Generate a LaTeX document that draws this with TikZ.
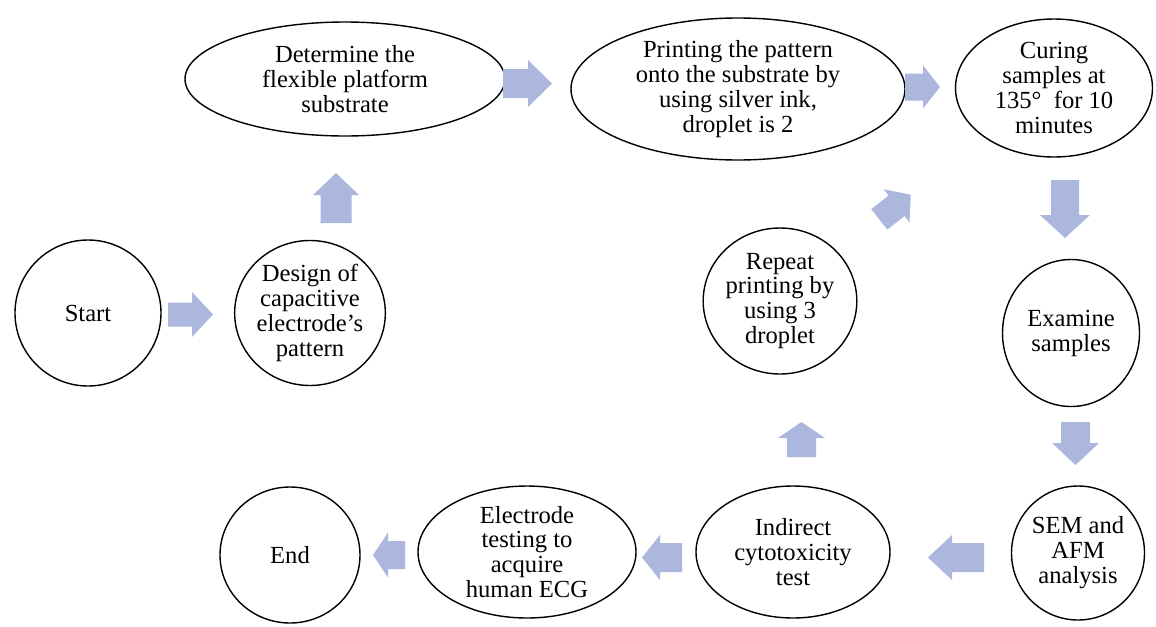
\documentclass[tikz,border=0pt]{standalone}
\usepackage{fontspec}
\setmainfont{Liberation Serif}
\usetikzlibrary{shapes.geometric}
\definecolor{arrowfill}{RGB}{171,183,221}
\newcommand\barrow[7]{\fill[arrowfill,shift={(#1,#2)},rotate=#3] (-#4/2,-#5/2) -- (#4/2-#7,-#5/2) -- (#4/2-#7,-#6/2) -- (#4/2,0) -- (#4/2-#7,#6/2) -- (#4/2-#7,#5/2) -- (-#4/2,#5/2) -- cycle;}
\begin{document}
\begin{tikzpicture}[x=0.02cm,y=-0.02cm,
  stage/.style={ellipse,draw=black,line width=0.8pt,inner sep=0pt,align=center,
    font=\fontsize{14}{14.2}\selectfont},
  ]
\useasboundingbox (0,0) rectangle (1156,626);
\node[stage,minimum width=146*0.02cm,minimum height=146*0.02cm] (start) at (88,313) {Start};
\node[stage,minimum width=150*0.02cm,minimum height=145*0.02cm] (design) at (310,313) {Design of\\capacitive\\electrode's\\pattern};
\node[stage,minimum width=320*0.02cm,minimum height=114*0.02cm] (determine) at (345,79) {Determine the\\flexible platform\\substrate};
\node[stage,minimum width=334*0.02cm,minimum height=142*0.02cm] (printing) at (738,89) {Printing the pattern\\onto the substrate by\\using silver ink,\\droplet is 2};
\node[stage,minimum width=197*0.02cm,minimum height=138*0.02cm] (curing) at (1054,88) {Curing\\samples at\\135\textdegree\ \ for 10\\minutes};
\node[stage,minimum width=137*0.02cm,minimum height=147*0.02cm] (examine) at (1071,333) {Examine\\samples};
\node[stage,minimum width=133*0.02cm,minimum height=134*0.02cm] (sem) at (1078,553) {SEM and\\AFM\\analysis};
\node[stage,minimum width=194*0.02cm,minimum height=132*0.02cm] (indirect) at (793,552) {Indirect\\cytotoxicity\\test};
\node[stage,minimum width=218*0.02cm,minimum height=132*0.02cm] (electrode) at (527,552) {Electrode\\testing to\\acquire\\human ECG};
\node[stage,minimum width=140*0.02cm,minimum height=136*0.02cm] (end) at (290,555) {End};
\node[stage,minimum width=150*0.02cm,minimum height=146*0.02cm] (repeat) at (780,301) {Repeat\\printing by\\using 3\\droplet};
% block arrows
\barrow{190.5}{314.5}{0}{45}{24}{45}{21}
\barrow{336}{198}{90}{50}{31}{46}{22}
\barrow{527.5}{83.5}{0}{49}{29}{47}{24}
\barrow{922.5}{87}{0}{35}{27}{43}{17}
\barrow{1065}{209}{-90}{58}{28}{50}{23}
\barrow{1075.5}{443.5}{-90}{43}{29}{47}{22}
\barrow{956}{557.5}{180}{56}{29}{45}{24}
\barrow{662}{557.5}{180}{40}{29}{45}{18}
\barrow{389}{555}{180}{32}{28}{45}{15}
\barrow{801.5}{439.5}{90}{35}{29}{47}{16}
\barrow{895}{207}{38}{40}{26}{42}{18}
\end{tikzpicture}
\end{document}
